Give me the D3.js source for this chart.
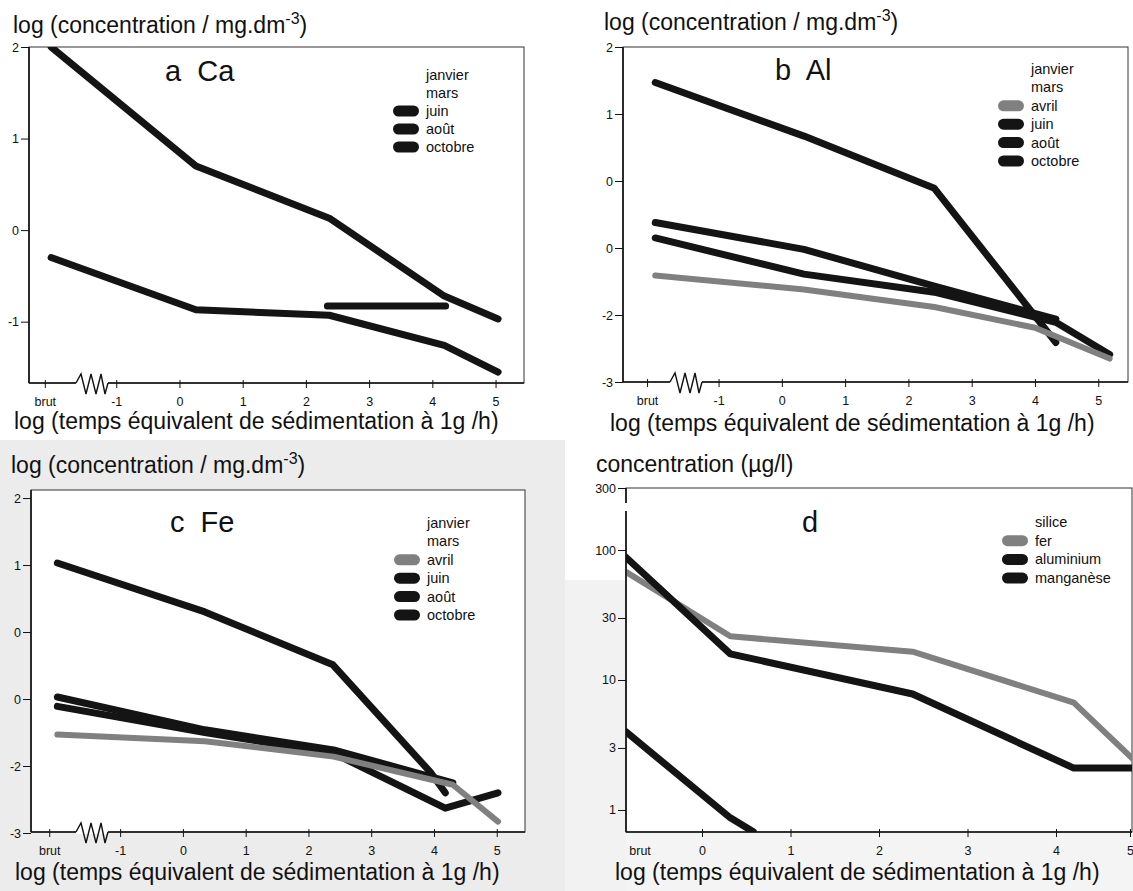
<!DOCTYPE html>
<html>
<head>
<meta charset="utf-8">
<script src="https://cdn.jsdelivr.net/npm/d3@7"></script>
<style>
body { margin: 0; background: #fff; }
svg { display: block; font-family: "Liberation Sans", Arial, Helvetica, sans-serif; }
</style>
</head>
<body>
<div id="chart"></div>
<script>
// ---- tick values / labels
var xTickValues = [-2.13, -1, 0, 1, 2, 3, 4, 5];
var xTickLabels = ["brut", "-1", "0", "1", "2", "3", "4", "5"];
var dTickValues = [0, 1, 2, 3, 4, 5];
var yTicksA = [2, 1, 0, -1];
var yLabelsA = ["2", "1", "0", "-1"];
var yTicksBC = [2, 1, 0, -1, -2, -3];
var yLabelsBC = ["2", "1", "0", "0", "-2", "-3"];   // printed like this in the figure
var yTicksD = [300, 100, 30, 10, 3, 1];

// ---- panel a : Ca
var legendA = ["janvier", "mars", "juin", "août", "octobre"];
var caJuin = [[-2.03, 2.0], [0.26, 0.70], [2.37, 0.13], [4.19, -0.72], [5.04, -0.97]];
var caAout = [[-2.03, -0.30], [0.26, -0.87], [2.37, -0.93], [4.19, -1.26], [5.04, -1.55]];
var caOctobre = [[2.34, -0.83], [4.21, -0.83]];

// ---- panel b : Al
var legendB = ["janvier", "mars", "avril", "juin", "août", "octobre"];
var alAvril = [[-2.0, -1.41], [0.35, -1.62], [2.41, -1.88], [4.0, -2.19], [5.18, -2.65]];
var alJuin = [[-2.0, -0.62], [0.35, -1.02], [2.41, -1.57], [4.33, -2.06]];
var alAout = [[-2.0, -0.85], [0.35, -1.39], [2.41, -1.66], [4.33, -2.11], [5.18, -2.59]];
var alOctobre = [[-2.0, 1.47], [0.35, 0.67], [2.41, -0.11], [4.33, -2.41]];

// ---- panel c : Fe
var legendC = ["janvier", "mars", "avril", "juin", "août", "octobre"];
var feAvril = [[-2.0, -1.53], [0.35, -1.63], [2.4, -1.86], [4.3, -2.28], [5.02, -2.83]];
var feJuin = [[-2.0, -0.97], [0.35, -1.46], [2.4, -1.76], [4.3, -2.25]];
var feAout = [[-2.0, -1.11], [0.35, -1.50], [2.4, -1.81], [4.18, -2.63], [5.02, -2.40]];
var feOctobre = [[-2.0, 1.03], [0.35, 0.30], [2.39, -0.49], [3.95, -2.10], [4.18, -2.40]];

// ---- panel d : concentrations (µg/l)
var legendD = ["silice", "fer", "aluminium", "manganèse"];
var dFer = [[-0.86, 68], [0.32, 21.7], [2.38, 16.5], [4.24, 6.7], [5.03, 2.5]];
var dAluminium = [[-0.86, 88], [0.32, 15.9], [2.38, 7.8], [4.24, 2.1], [5.03, 2.1]];
var dManganese = [[-0.86, 4.0], [0.32, 0.87], [0.58, 0.68]];

var BLACK = "#141414", GRAY = "#808080";
var swatchColor = { "avril": GRAY, "juin": BLACK, "août": BLACK, "octobre": BLACK,
                    "fer": GRAY, "aluminium": BLACK, "manganèse": BLACK };

var svg = d3.select("#chart").append("svg")
    .attr("width", 1133)
    .attr("height", 891);

// scanned paper tint in the lower part
svg.append("rect").attr("x", 0).attr("y", 440).attr("width", 565).attr("height", 451).attr("fill", "#ececec");
svg.append("rect").attr("x", 565).attr("y", 580).attr("width", 61).attr("height", 311).attr("fill", "#f2f2f2");
svg.append("rect").attr("x", 626).attr("y", 833).attr("width", 507).attr("height", 58).attr("fill", "#f4f4f4");

function drawPanel(p) {
    var b = p.box;
    var g = svg.append("g");

    g.append("rect")
        .attr("x", b[0]).attr("y", b[1])
        .attr("width", b[2] - b[0]).attr("height", b[3] - b[1])
        .attr("fill", "#fff")
        .attr("stroke", "#333").attr("stroke-width", 1);

    svg.append("clipPath").attr("id", "clip" + p.id)
        .append("rect")
        .attr("x", b[0]).attr("y", b[1])
        .attr("width", b[2] - b[0]).attr("height", b[3] - b[1]);

    var line = d3.line()
        .x(function(d) { return p.x(d[0]); })
        .y(function(d) { return p.y(d[1]); });

    g.append("g")
        .attr("clip-path", "url(#clip" + p.id + ")")
        .selectAll("path")
        .data(p.series)
        .enter()
        .append("path")
        .attr("d", function(d) { return line(d.values); })
        .attr("fill", "none")
        .attr("stroke", function(d) { return d.color; })
        .attr("stroke-width", function(d) { return d.width; })
        .attr("stroke-linejoin", "round")
        .attr("stroke-linecap", "round");

    // left axis
    var yAxis = d3.axisLeft(p.y)
        .tickValues(p.yTicks)
        .tickFormat(function(d, i) { return p.yLabels[i]; })
        .tickSize(8)
        .tickPadding(2);
    var ya = g.append("g").attr("transform", "translate(" + b[0] + ",0)").call(yAxis);
    ya.select(".domain").remove();
    ya.selectAll("text").attr("font-size", 12.5).attr("font-family", null).attr("fill", "#111");
    ya.selectAll("line").attr("stroke", "#111");

    // bottom axis
    var xAxis = d3.axisBottom(p.x)
        .tickValues(p.xTicks)
        .tickFormat(function(d, i) { return p.xLabels[i]; })
        .tickSize(5)
        .tickPadding(9);
    var xa = g.append("g").attr("transform", "translate(0," + b[3] + ")").call(xAxis);
    xa.select(".domain").remove();
    xa.selectAll("text").attr("font-size", 12.5).attr("font-family", null).attr("fill", "#111");
    xa.selectAll("line").attr("y1", -3).attr("stroke", "#111");

    g.append("line").attr("x1", b[0]).attr("x2", b[0]).attr("y1", b[1]).attr("y2", b[3])
        .attr("stroke", "#111").attr("stroke-width", 1.6);
    g.append("line").attr("x1", b[0]).attr("x2", b[2]).attr("y1", b[3]).attr("y2", b[3])
        .attr("stroke", "#111").attr("stroke-width", 1.6);

    // axis break on the x axis
    if (p.zig) {
        var z = p.zig, yA = b[3];
        g.append("rect").attr("x", z).attr("y", yA - 2).attr("width", 32).attr("height", 4).attr("fill", "#fff");
        var zz = [[0, 0], [5, -9], [10, 11], [15, -9], [20, 11], [25, -9], [29, 11], [32, 0]];
        g.append("path")
            .attr("d", d3.line()(zz.map(function(q) { return [z + q[0], yA + q[1]]; })))
            .attr("fill", "none").attr("stroke", "#111").attr("stroke-width", 1.4);
    }

    // gap in the left axis (panel d)
    if (p.gap) {
        g.append("rect").attr("x", b[0] - 2).attr("y", p.gap[0]).attr("width", 4)
            .attr("height", p.gap[1] - p.gap[0]).attr("fill", "#fff");
    }

    if (p.brutX != null) {
        g.append("text").attr("x", p.x(p.brutX)).attr("y", b[3] + 23)
            .attr("text-anchor", "middle").attr("font-size", 12.5).attr("fill", "#111").text("brut");
    }

    // panel title
    g.append("text").attr("x", p.title[0]).attr("y", p.title[1])
        .attr("font-size", 29).attr("fill", "#111")
        .attr("xml:space", "preserve")
        .text(p.title[2]);

    // legend
    var lg = g.append("g").selectAll("g")
        .data(p.legend)
        .enter()
        .append("g")
        .attr("transform", function(d, i) { return "translate(" + p.leg[0] + "," + (p.leg[1] + i * p.leg[2]) + ")"; });
    lg.filter(function(d) { return swatchColor[d]; })
        .append("rect")
        .attr("x", -33).attr("y", -5.5).attr("width", 26).attr("height", 11).attr("rx", 5.5)
        .attr("fill", function(d) { return swatchColor[d]; });
    lg.append("text").attr("x", 0).attr("y", 5).attr("font-size", 14.5).attr("fill", "#111")
        .text(function(d) { return d; });

    // y title
    var yt = g.append("text").attr("x", p.ylab[0]).attr("y", p.ylab[1]).attr("font-size", 23).attr("fill", "#111");
    if (p.ylab[2]) {
        yt.text("log (concentration / mg.dm");
        yt.append("tspan").attr("dy", -9).attr("font-size", 16).text("-3");
        yt.append("tspan").attr("dy", 9).text(")");
    } else {
        yt.text("concentration (µg/l)");
    }

    // x title
    g.append("text").attr("x", p.xlab[0]).attr("y", p.xlab[1]).attr("font-size", 23).attr("fill", "#111")
        .text("log (temps équivalent de sédimentation à 1g /h)");
}

function s(values, color) {
    return { values: values, color: color, width: color === GRAY ? 6 : 7 };
}

// a
drawPanel({
    id: "a", box: [29, 47, 524, 383],
    x: d3.scaleLinear().domain([-2.38, 5.45]).range([29, 524]),
    y: d3.scaleLinear().domain([2, -1.67]).range([47, 383]),
    xTicks: xTickValues, xLabels: xTickLabels,
    yTicks: yTicksA, yLabels: yLabelsA,
    series: [s(caJuin, BLACK), s(caAout, BLACK), s(caOctobre, BLACK)],
    legend: legendA, leg: [426, 75, 18],
    title: [165, 81, "a  Ca"], zig: 76,
    ylab: [13, 33, true], xlab: [14, 429]
});

// b
drawPanel({
    id: "b", box: [623, 47, 1128, 382],
    x: d3.scaleLinear().domain([-2.51, 5.47]).range([623, 1128]),
    y: d3.scaleLinear().domain([2, -3]).range([47, 382]),
    xTicks: xTickValues, xLabels: xTickLabels,
    yTicks: yTicksBC, yLabels: yLabelsBC,
    series: [s(alOctobre, BLACK), s(alJuin, BLACK), s(alAout, BLACK), s(alAvril, GRAY)],
    legend: legendB, leg: [1031, 69, 18.4],
    title: [775, 80, "b  Al"], zig: 670,
    ylab: [604, 30, true], xlab: [610, 431]
});

// c
drawPanel({
    id: "c", box: [31, 490, 525, 832],
    x: d3.scaleLinear().domain([-2.42, 5.45]).range([31, 525]),
    y: d3.scaleLinear().domain([2.12, -3]).range([490, 833]),
    xTicks: xTickValues, xLabels: xTickLabels,
    yTicks: yTicksBC, yLabels: yLabelsBC,
    series: [s(feOctobre, BLACK), s(feJuin, BLACK), s(feAout, BLACK), s(feAvril, GRAY)],
    legend: legendC, leg: [427, 523, 18.4],
    title: [170, 532, "c  Fe"], zig: 76,
    ylab: [11, 473, true], xlab: [15, 880]
});

// d
drawPanel({
    id: "d", box: [626, 488, 1132, 832],
    x: d3.scaleLinear().domain([0, 4, 5]).range([702, 1056, 1130]),
    y: d3.scaleLog().domain([0.677, 300]).range([832, 488]),
    xTicks: dTickValues, xLabels: ["0", "1", "2", "3", "4", "5"],
    yTicks: yTicksD, yLabels: ["300", "100", "30", "10", "3", "1"],
    series: [s(dFer, GRAY), s(dAluminium, BLACK), s(dManganese, BLACK)],
    legend: legendD, leg: [1035, 522, 18.7],
    title: [802, 532, "d"], brutX: -0.7, gap: [503, 511],
    ylab: [596, 472, false], xlab: [615, 880]
});
</script>
</body>
</html>
